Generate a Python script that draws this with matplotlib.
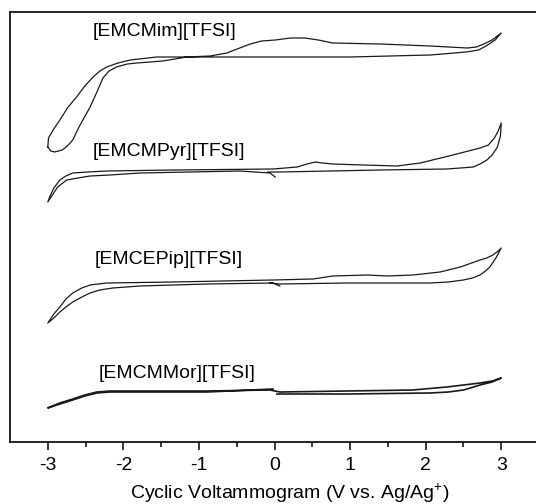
import matplotlib.pyplot as plt
import numpy as np

plt.rcParams["font.family"] = ["Liberation Sans", "DejaVu Sans"]
plt.rcParams["mathtext.default"] = "regular"
plt.rcParams["axes.unicode_minus"] = False

# potential (V vs. Ag/Ag+) and stacked current (a.u., offset per salt)
mim_v = [-3.00, -2.96, -2.91, -2.81, -2.74, -2.67, -2.58, -2.44, -2.35, -2.27,
         -2.19, -2.09, -1.95, -1.82, -1.48, -1.16, -0.85, -0.63, -0.46, -0.32,
         -0.17, 0.01, 0.21, 0.40, 0.58, 0.77, 1.40, 2.06, 2.55, 2.67, 2.77,
         2.88, 3.00,
         2.92, 2.80, 2.70, 2.54, 2.06, 1.00, -1.12, -1.56, -1.91, -2.07, -2.22,
         -2.31, -2.40, -2.51, -2.62, -2.74, -2.84, -2.93, -2.99, -3.00]
mim_i = [295, 291, 290, 292, 296, 302, 316, 335, 350, 364, 371, 375, 378, 379,
         381, 385, 386, 389, 394, 398, 401, 402, 404, 404, 402, 399, 398, 396,
         394, 395, 398, 402, 409,
         402, 396, 392, 390, 387, 385, 385, 385, 382, 379, 375, 371, 365, 356,
         345, 334, 322, 312, 304, 295]

pyr_v = [0.01, -0.06, -0.46, -1.78, -2.18, -2.44, -2.60, -2.75, -2.87, -2.93,
         -3.00, -2.97, -2.92, -2.84, -2.76, -2.67, -2.47, -2.22, -1.34, -0.02,
         0.30, 0.43, 0.54, 0.63, 0.77, 1.17, 1.62, 1.93, 2.36, 2.72, 2.83, 2.91,
         2.96, 3.00, 2.99, 2.95, 2.88, 2.81, 2.72, 2.63, 2.46, 2.28, 1.40, 0.07,
         -0.09]
pyr_i = [265, 269, 271, 269, 267, 266, 264, 262, 255, 248, 240, 246, 254, 262,
         266, 269, 270, 271, 272, 273, 275, 278, 280, 279, 278, 277, 276, 279,
         287, 294, 297, 304, 311, 319, 306, 295, 287, 282, 278, 275, 274, 273,
         272, 270, 270]

pip_v = [0.07, -0.02, -0.89, -1.78, -2.14, -2.31, -2.44, -2.55, -2.67, -2.76,
         -2.84, -2.92, -3.00, -2.92, -2.84, -2.76, -2.67, -2.55, -2.44, -2.22,
         -1.34, -0.02, 0.51, 0.77, 1.23, 1.49, 1.83, 2.19, 2.46, 2.72, 2.81,
         2.89, 2.96, 3.00, 2.93, 2.85, 2.79, 2.72, 2.62, 2.50, 2.30, 2.06, 0.96,
         0.07, -0.06]
pip_i = [156, 159, 158, 156, 154, 152, 149, 145, 140, 135, 130, 124, 119, 128,
         135, 143, 149, 154, 157, 159, 160, 162, 163, 166, 167, 166, 167, 170,
         175, 182, 184, 187, 191, 194, 184, 175, 171, 167, 164, 162, 160, 159,
         159, 158, 159]

mor_v = [-0.02, -0.89, -2.01, -2.18, -2.35, -2.51, -2.67, -2.84, -3.00, -2.84,
         -2.67, -2.51, -2.35, -2.18, -2.01, -0.89, -0.06, 0.07, 0.96, 1.83, 2.28,
         2.72, 2.88, 3.00, 2.88, 2.72, 2.59, 2.50, 2.30, 2.06, 0.96, 0.03]
mor_i = [53, 50, 50, 50, 49, 46, 42, 38, 34, 39, 43, 47, 50, 51, 51, 51, 52, 50,
         51, 52, 55, 59, 61, 64, 60, 57, 54, 52, 50, 49, 48, 48]

names = ["[EMCMim][TFSI]", "[EMCMPyr][TFSI]", "[EMCEPip][TFSI]", "[EMCMMor][TFSI]"]
label_v = [-1.45, -1.40, -1.40, -1.29]
label_i = [410, 290, 182, 69]

fig = plt.figure(figsize=(5.36, 5.04), dpi=100)
ax = fig.add_axes([10 / 536, 62 / 504, 529 / 536, 430 / 504])

curves = [(mim_v, mim_i, 0.9), (pyr_v, pyr_i, 0.9), (pip_v, pip_i, 0.9),
          (mor_v, mor_i, 1.2)]
for v, i, lw in curves:
    ax.plot(v, i, color="#1a1a1a", lw=lw, solid_joinstyle="round")

for name, x, y in zip(names, label_v, label_i):
    ax.text(x, y, name, ha="center", va="center", fontsize=14)

ax.set_xlim(-3.5, 3.5)
ax.set_ylim(0, 430)
ax.set_xticks(np.arange(-3, 4, 1))
ax.set_xticks(np.arange(-2.5, 3.0, 1), minor=True)
ax.tick_params(axis="x", which="major", direction="out", length=6, width=1.1,
               labelsize=14, pad=5)
ax.tick_params(axis="x", which="minor", direction="out", length=3.5, width=1.1)
ax.set_yticks([])
for s in ax.spines.values():
    s.set_linewidth(1.2)
ax.set_xlabel("Cyclic Voltammogram (V vs. Ag/Ag$^{+}$)", fontsize=14)
ax.xaxis.set_label_coords(0.529, -0.093)

fig.savefig("out.png", dpi=100)
plt.close(fig)
